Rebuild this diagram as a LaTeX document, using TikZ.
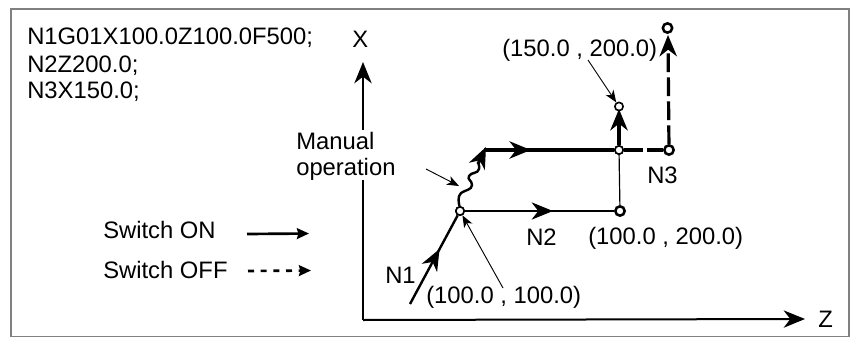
\documentclass[tikz,border=0pt]{standalone}
\usepackage{fontspec}
\setmainfont{Liberation Sans}
\usetikzlibrary{arrows.meta,decorations.markings}
\tikzset{
  x=0.75pt,y=-0.75pt,
  lab/.style={inner sep=0pt,anchor=base west,font=\fontsize{17.85}{20.6}\selectfont},
  pt/.style={circle,draw=black,fill=white,line width=1.2pt,minimum size=6.2pt,inner sep=0pt},
  ptb/.style={circle,draw=black,fill=white,line width=1.9pt,minimum size=7pt,inner sep=0pt},
  thin line/.style={line width=0.9pt},
  lead/.style={line width=0.7pt,-{Stealth[length=9pt,width=7pt,inset=2.5pt]}},
  thick line/.style={line width=2.4pt},
  bighead/.tip={Stealth[length=16pt,width=13pt,inset=5pt]},
  axis/.style={line width=1.5pt,-bighead},
  headmark/.style={postaction={decorate,decoration={markings,mark=at position #1 with {\arrow{bighead}}}}},
}
\begin{document}
\begin{tikzpicture}
\useasboundingbox (0,0) rectangle (850,336);
\draw[draw=black!50,line width=1.5pt] (11,9) -- (849,9) -- (849,337) -- (11,337) -- cycle;
\coordinate (o) at (363,320);
\coordinate (xe) at (363,62);
\coordinate (ze) at (805,319);
\draw[axis] (o) -- (xe);
\draw[axis] (o) -- (ze);
\fill[white] (352,130) rectangle (376,180);
\node[lab] (prog1) at (27,44) {N1G01X100.0Z100.0F500;};
\node[lab] (prog2) at (27,72) {N2Z200.0;};
\node[lab] (prog3) at (27,98) {N3X150.0;};
\node[lab] (xl) at (352,47) {X};
\node[lab] (zl) at (818,327) {Z};
\coordinate (s) at (410,304);
\node[pt] (a) at (460,211) {};
\node[ptb] (b) at (620,211) {};
\node[pt] (c) at (619,150) {};
\node[pt] (d) at (619,106.5) {};
\node[ptb] (e) at (669,150) {};
\node[ptb] (f) at (667.5,28) {};
\coordinate (w) at (484,150);
\draw[line width=1.8pt,headmark=0.62] (s) -- (a);
\draw[thin line,headmark=0.59] (a) -- (b);
\draw[thin line] (b) -- (c);
\draw[thick line,headmark=0.36] (w) -- (c);
\draw[thick line,-bighead] (c) -- (619,109);
\draw[thick line,dash pattern=on 14pt off 3pt] (c) -- (e);
\draw[thick line,dash pattern=on 14pt off 4pt,-bighead] (e) -- (668,35);
\draw[line width=1.8pt] (a) .. controls (459,203) and (457,197) .. (461,193) .. controls (465,190) and (472,190) .. (472,185) .. controls (472,180) and (467,180) .. (469,176) .. controls (471,172) and (478,174) .. (479,169) .. controls (480,165) and (478,165) .. (478,162);
\draw[line width=2.4pt,-bighead] (478,164) -- (486,147);
\node[pt] at (c) {};
\node[pt] at (a) {};
\node[lab] (t150) at (502,56) {(150.0 , 200.0)};
\node[lab] (t100) at (426,303) {(100.0 , 100.0)};
\node[lab] (t1002) at (588,244) {(100.0 , 200.0)};
\node[lab] (n1) at (385,283) {N1};
\node[lab] (n2) at (526,245) {N2};
\node[lab] (n3) at (647,183) {N3};
\node[lab] (man) at (296,149) {Manual};
\node[lab] (op) at (296,175) {operation};
\node[lab] (on) at (103,238) {Switch ON};
\node[lab] (off) at (103,278) {Switch OFF};
\coordinate (l1) at (588,60);
\coordinate (l2) at (426,169);
\coordinate (l3) at (503,288);
\coordinate (l2e) at (459,186);
\draw[lead] (l1) -- (d);
\draw[lead] (l2) -- (l2e);
\draw[lead] (l3) -- (a);
\coordinate (on1) at (247,234);
\coordinate (on2) at (309,233.5);
\coordinate (off1) at (248,271);
\coordinate (off2) at (311,270.5);
\draw[line width=2pt,-{Stealth[length=9pt,width=8pt,inset=1pt]}] (on1) -- (on2);
\draw[line width=2pt,dash pattern=on 4.5pt off 5pt,-{Stealth[length=9pt,width=8pt,inset=1pt]}] (off1) -- (off2);
\end{tikzpicture}
\end{document}
